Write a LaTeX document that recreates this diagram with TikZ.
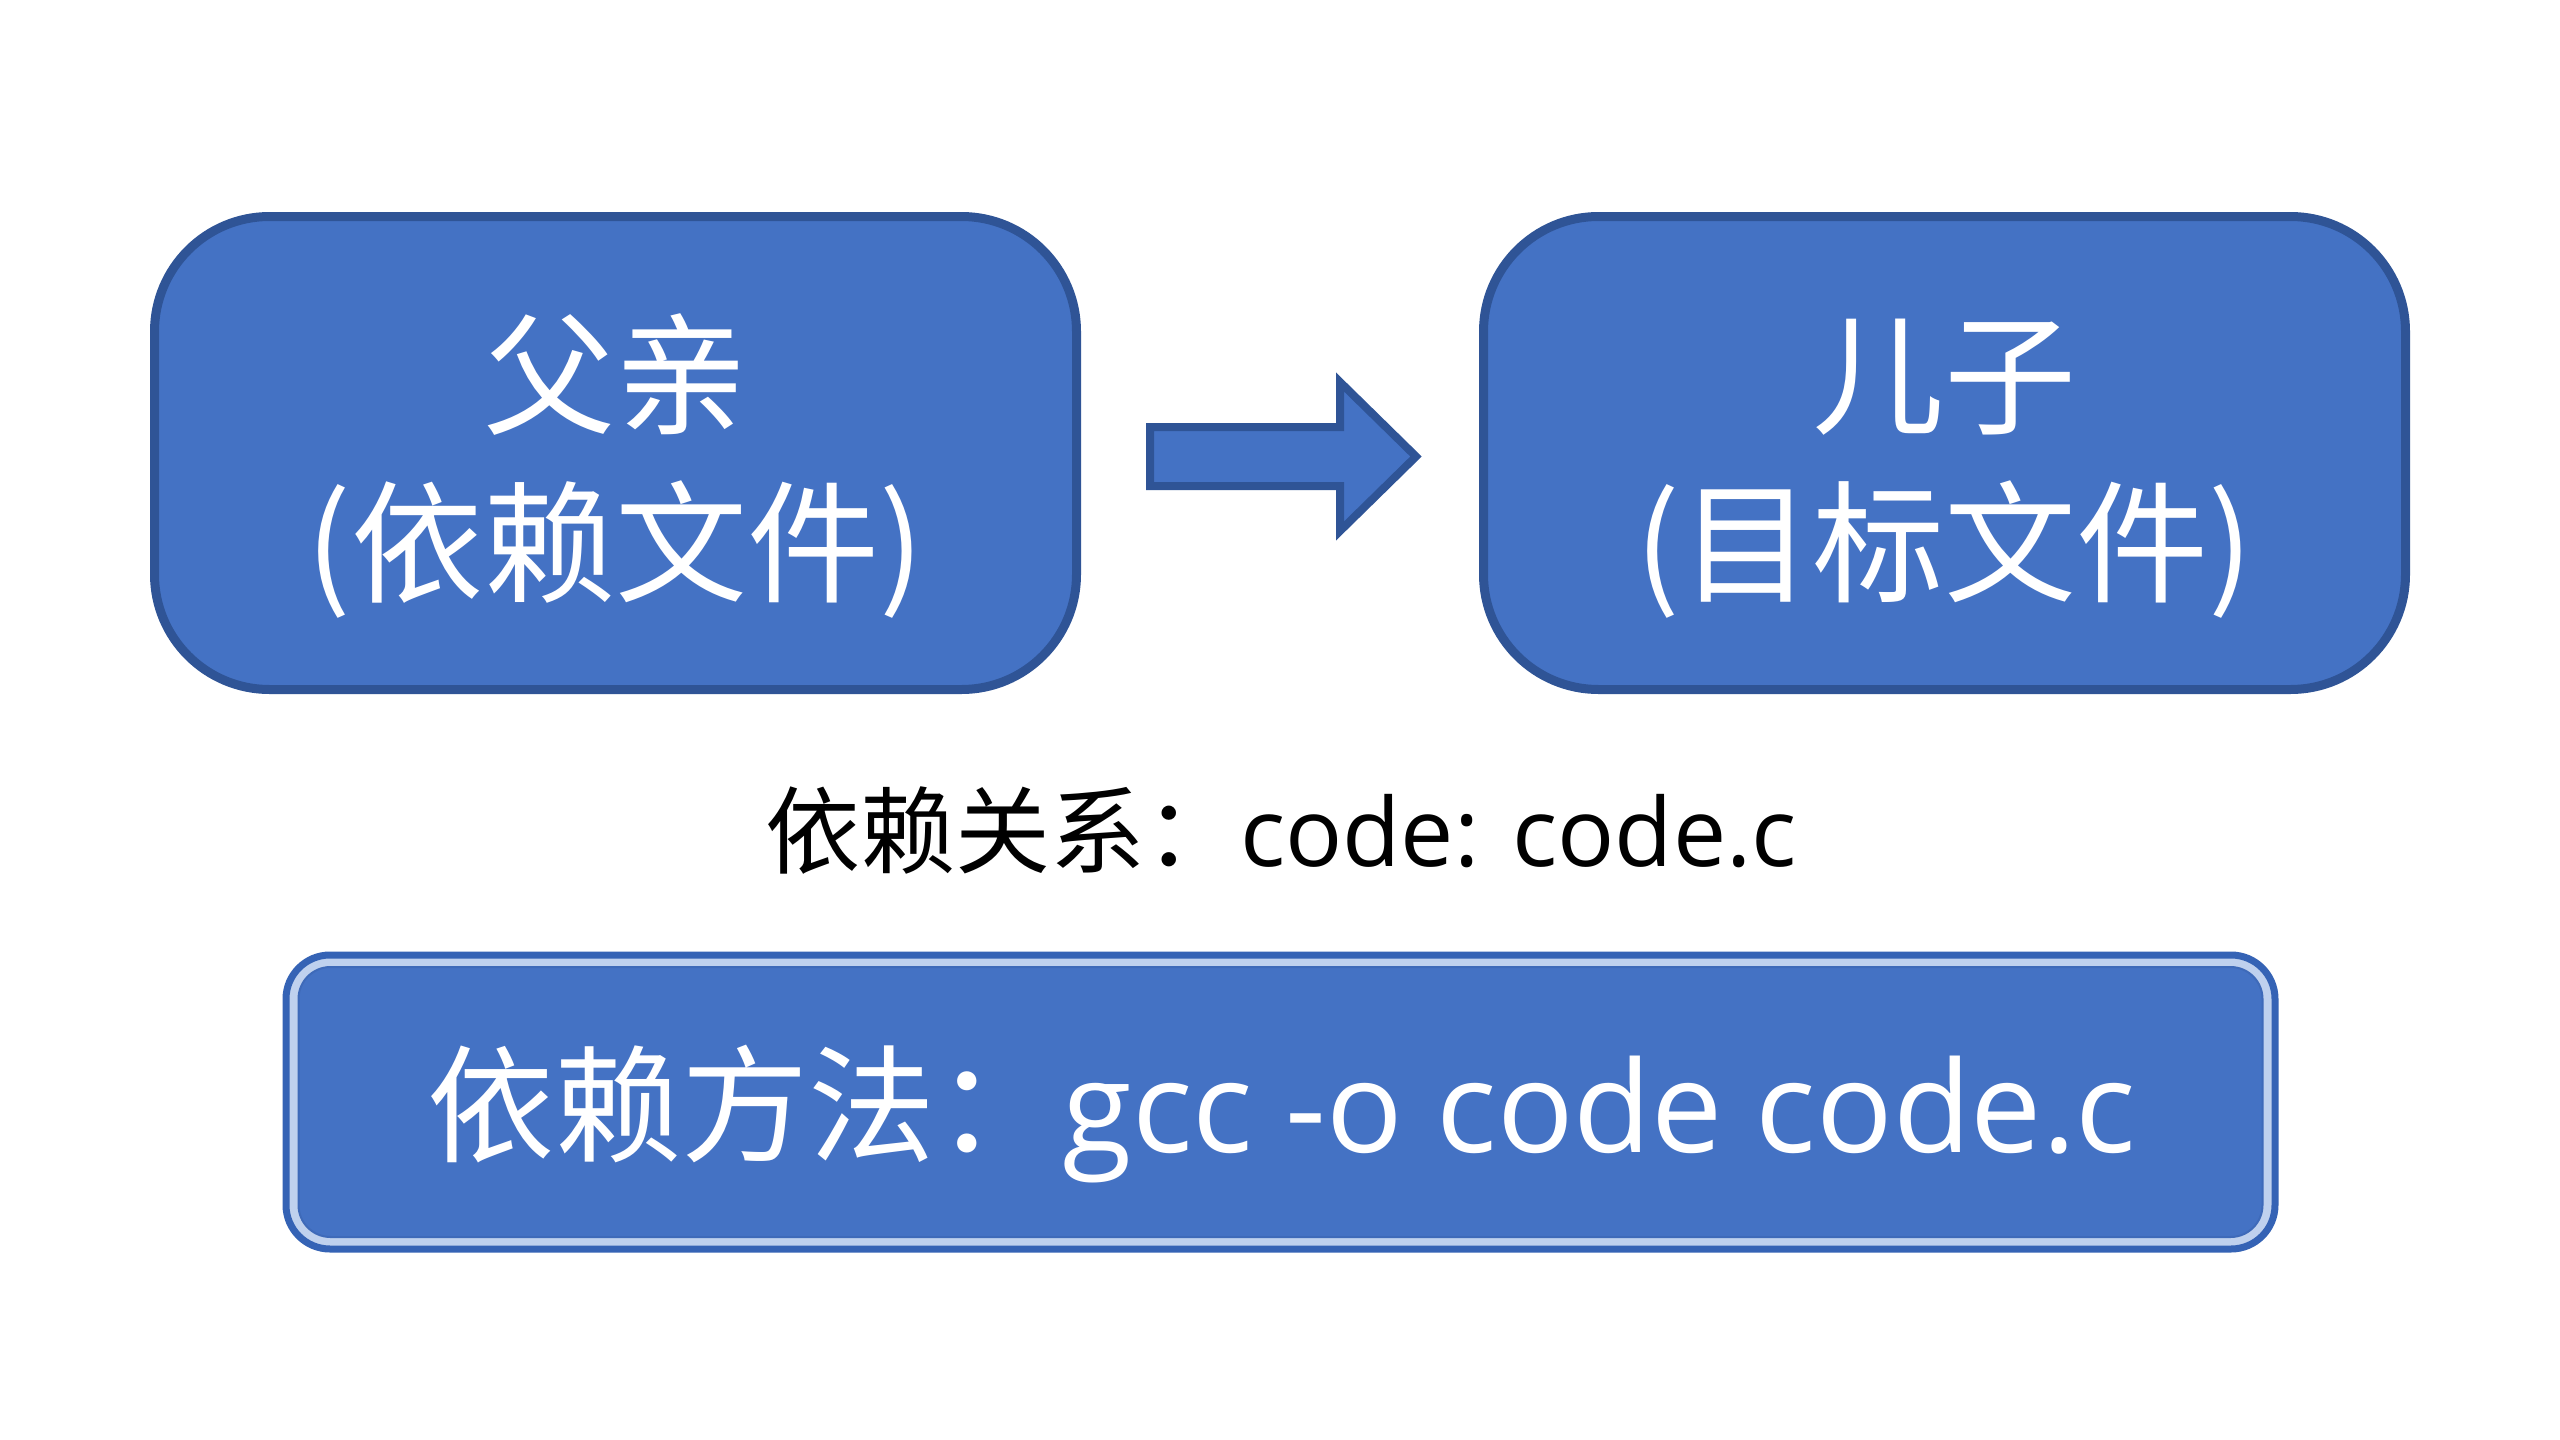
\documentclass[tikz,border=0pt]{standalone}
\usepackage{fontspec}
\setmainfont{Open Sans}
\newfontfamily\cjk{Noto Sans CJK SC}
\definecolor{boxfill}{HTML}{4472C4}
\definecolor{boxline}{HTML}{2F5496}
\definecolor{bandlight}{HTML}{BFD1EE}
\definecolor{outerline}{HTML}{3563B5}
\definecolor{innerline}{HTML}{3E6AB9}
\begin{document}
\begin{tikzpicture}[x=1pt,y=-1pt,
  bigbox/.style={draw=boxline, line width=9pt, fill=boxfill, rounded corners=115pt,
    minimum width=922pt, minimum height=473pt, inner sep=0pt},
  boxtext/.style={text=white, inner sep=0pt, anchor=base, font=\cjk\fontsize{132}{160}\selectfont},
  arrowshape/.style={draw=boxline, line width=8pt, fill=boxfill, line join=miter},
  outerband/.style={draw=outerline, line width=7pt, fill=bandlight, rounded corners=44pt,
    minimum width=1989pt, minimum height=294pt, inner sep=0pt},
  innerband/.style={draw=innerline, line width=2pt, fill=boxfill, rounded corners=32pt,
    minimum width=1964pt, minimum height=270pt, inner sep=0pt},
  plaintext/.style={inner sep=0pt, anchor=base}
]
\useasboundingbox (0,0) rectangle (2560,1440);
\fill[white] (0,0) rectangle (2560,1440);

% top boxes
\node[bigbox] (father) at (615.5,453) {};
\node[bigbox] (son) at (1944.5,453) {};
\node[boxtext] (fatherA) at ([yshift=29pt]father.center) {父亲};
\node[boxtext] (fatherB) at ([yshift=-139pt]father.center) {(依赖文件)};
\node[boxtext] (sonA) at ([yshift=29pt]son.center) {儿子};
\node[boxtext] (sonB) at ([yshift=-139pt]son.center) {(目标文件)};

% block arrow
\draw[arrowshape] (1150,427) -- (1340,427) -- (1340,382) -- (1416,456.5)
  -- (1340,531) -- (1340,486) -- (1150,486) -- cycle;

% relation text
\node[plaintext] (relation) at (1281,866)
  {\fontsize{95}{110}\selectfont{\cjk 依赖关系：}code: code.c};

% bottom box
\node[outerband] (method) at (1280.5,1102) {};
\node[innerband] (methodin) at (method.center) {};
\node[plaintext, text=white] (methodtext) at (1282,1152)
  {\fontsize{127}{140}\selectfont{\cjk 依赖方法：}gcc -o code code.c};
\end{tikzpicture}
\end{document}
